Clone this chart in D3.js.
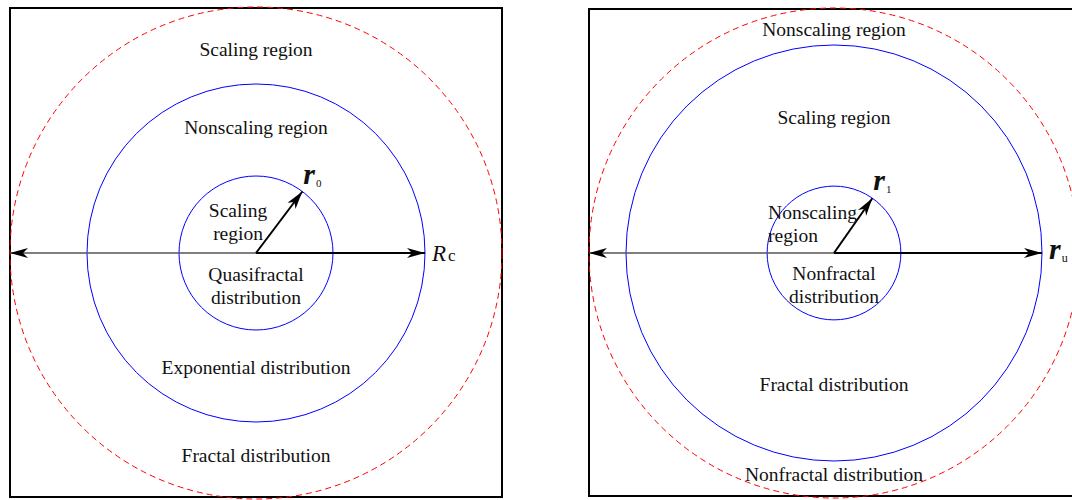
<!DOCTYPE html>
<head>
    <meta charset="utf-8">
    <script src="https://cdn.jsdelivr.net/npm/d3@7"></script>
    <style>
        body { margin: 0; background: #fff; }
        text { font-family: "Liberation Serif", "Times New Roman", serif; fill: #111; }
    </style>
</head>
<body>
    <div id="chart"></div>
    <script>
        // --- data : radii as a fraction of the outer (dashed) circle
        const panels = ["left", "right"];
        const innerRadius = [0.313, 0.273];
        const middleRadius = [0.687, 0.849];
        const outerRadius = [1, 1];
        const arrowAngle = [53, 55]; // degrees, radius arrow to inner circle
        const radiusLabel = [["r", "0"], ["r", "1"]];
        const rangeLabel = [["R", "c"], ["r", "u"]];

        // zone texts : [lines, dx, dy, anchor] (outer-radius units, from the centre)
        const zoneLabels = [
            [
                [["Scaling region"], 0, -0.829, "middle"],
                [["Nonscaling region"], 0, -0.512, "middle"],
                [["Scaling", "region"], -0.073, -0.132, "middle"],
                [["Quasifractal", "distribution"], 0, 0.132, "middle"],
                [["Exponential distribution"], 0, 0.463, "middle"],
                [["Fractal distribution"], 0, 0.821, "middle"]
            ],
            [
                [["Nonscaling region"], 0, -0.914, "middle"],
                [["Scaling region"], 0, -0.555, "middle"],
                [["Nonscaling", "region"], -0.269, -0.122, "start"],
                [["Nonfractal", "distribution"], 0, 0.127, "middle"],
                [["Fractal distribution"], 0, 0.535, "middle"],
                [["Nonfractal distribution"], 0, 0.902, "middle"]
            ]
        ];

        // --- layout
        const width = 1072, height = 500;
        const centerX = [256, 834], centerY = 253, outerPx = [246, 245];

        const svg = d3.select("#chart").append("svg")
            .attr("width", width)
            .attr("height", height);

        // arrow head (barbed, filled)
        svg.append("defs").append("marker")
            .attr("id", "head")
            .attr("viewBox", "-18 -6 20 12")
            .attr("refX", 0).attr("refY", 0)
            .attr("markerWidth", 20).attr("markerHeight", 12)
            .attr("markerUnits", "userSpaceOnUse")
            .attr("orient", "auto-start-reverse")
            .append("path")
            .attr("d", "M0,0 L-18,-5 L-13,0 L-18,5 Z")
            .attr("fill", "#000");

        panels.forEach((p, i) => {
            const r = d3.scaleLinear().domain([0, 1]).range([0, outerPx[i]]);
            const cx = centerX[i], cy = centerY;
            const g = svg.append("g").attr("class", p);

            // frame
            g.append("rect")
                .attr("x", cx - r(1)).attr("y", cy - r(1) + 1)
                .attr("width", 2 * r(1)).attr("height", 2 * r(1) - 3)
                .attr("fill", "none")
                .attr("stroke", "#000")
                .attr("stroke-width", 2);

            // circles
            g.append("circle")
                .attr("cx", cx).attr("cy", cy).attr("r", r(outerRadius[i]))
                .attr("fill", "none").attr("stroke", "#ff0000")
                .attr("stroke-width", 1).attr("stroke-dasharray", "6,4");

            g.selectAll(".ring")
                .data([innerRadius[i], middleRadius[i]])
                .enter().append("circle")
                .attr("class", "ring")
                .attr("cx", cx).attr("cy", cy).attr("r", d => r(d))
                .attr("fill", "none").attr("stroke", "#0000ff")
                .attr("stroke-width", 1);

            // horizontal line : thin to the left, thick arrow to the middle ring
            g.append("line")
                .attr("x1", cx).attr("y1", cy)
                .attr("x2", cx - r(outerRadius[i])).attr("y2", cy)
                .attr("stroke", "#555").attr("stroke-width", 1.3)
                .attr("marker-end", "url(#head)");

            g.append("line")
                .attr("x1", cx).attr("y1", cy)
                .attr("x2", cx + r(middleRadius[i])).attr("y2", cy)
                .attr("stroke", "#000").attr("stroke-width", 2.2)
                .attr("marker-end", "url(#head)");

            // radius arrow to the inner ring
            const a = arrowAngle[i] * Math.PI / 180;
            const ex = cx + r(innerRadius[i]) * Math.cos(a);
            const ey = cy - r(innerRadius[i]) * Math.sin(a);
            g.append("line")
                .attr("x1", cx).attr("y1", cy)
                .attr("x2", ex).attr("y2", ey)
                .attr("stroke", "#000").attr("stroke-width", 2)
                .attr("marker-end", "url(#head)");

            // r0 / r1 label
            const rl = g.append("text")
                .attr("x", ex + 1).attr("y", ey - 8);
            rl.append("tspan")
                .attr("font-style", "italic").attr("font-weight", "bold")
                .attr("font-size", 30)
                .text(radiusLabel[i][0]);
            rl.append("tspan")
                .attr("font-size", 11).attr("dy", 3).attr("dx", 1)
                .text(radiusLabel[i][1]);

            // Rc / ru label
            const big = rangeLabel[i][0] === "R";
            const ll = g.append("text")
                .attr("x", cx + r(middleRadius[i]) + 7)
                .attr("y", cy + (big ? 8 : 6));
            ll.append("tspan")
                .attr("font-style", "italic")
                .attr("font-weight", big ? "normal" : "bold")
                .attr("font-size", big ? 23 : 30)
                .text(rangeLabel[i][0]);
            ll.append("tspan")
                .attr("font-size", big ? 17 : 12)
                .attr("dx", big ? 2 : 1)
                .attr("dy", big ? 0 : 3)
                .text(rangeLabel[i][1]);

            // zone texts
            zoneLabels[i].forEach(([lines, dx, dy, anchor]) => {
                const t = g.append("text")
                    .attr("text-anchor", anchor)
                    .attr("font-size", 19.5)
                    .attr("x", cx + r(dx))
                    .attr("y", cy + r(dy) - (lines.length - 1) * 11)
                    .attr("dominant-baseline", "central");
                lines.forEach((s, k) => {
                    t.append("tspan")
                        .attr("x", cx + r(dx))
                        .attr("dy", k === 0 ? 0 : 23)
                        .text(s);
                });
            });
        });
    </script>
</body>
